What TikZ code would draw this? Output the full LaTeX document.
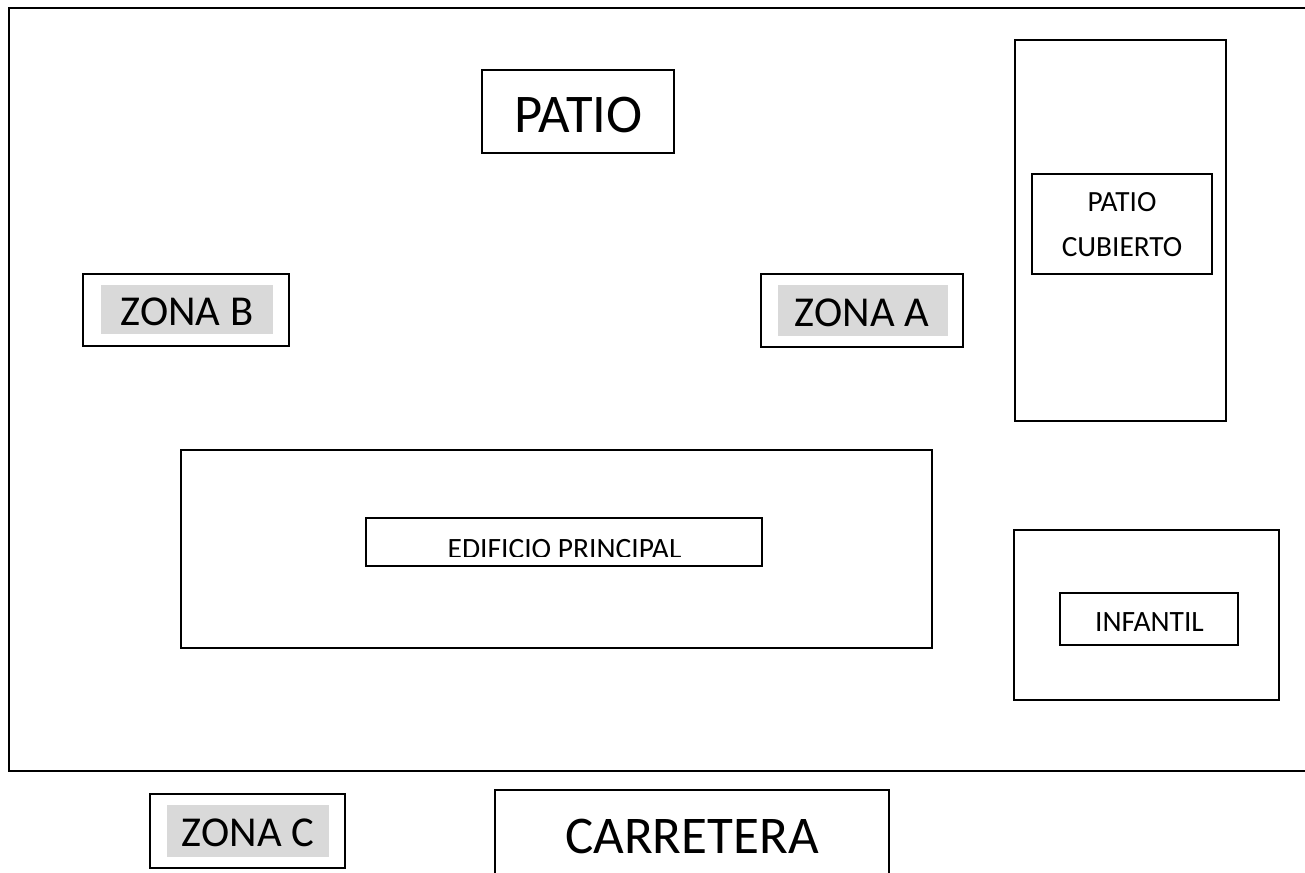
\documentclass[tikz,border=0pt]{standalone}
\usepackage{fontspec}
\setmainfont{Carlito}
\usepackage{xcolor}
\usepackage{tikz}
\definecolor{zonagris}{RGB}{217,217,217}
\tikzset{
  caja/.style={draw, line width=1.1pt},
  etiqueta/.style={fill=zonagris, inner sep=0pt},
  zonatexto/.style={font=\fontsize{42.6}{50}\selectfont},
  chico/.style={font=\fontsize{29.5}{34}\selectfont},
}
\begin{document}
\begin{tikzpicture}[x=1pt,y=-1pt]
\useasboundingbox (0,0) rectangle (1305,872);
%recinto
\draw [line width=1.4pt] (1305,8) -- (9,8) -- (9,771) -- (1305,771);
%patio
\draw [caja] (482,70) rectangle (674,153);
\node [font=\fontsize{54.5}{64}\selectfont] (patio) at (578.5,115) {PATIO};
%patio cubierto
\draw [caja] (1015,40) rectangle (1226,421);
\draw [caja] (1032,174) rectangle (1212,274);
\node [chico, align=center, font=\fontsize{29.3}{45}\selectfont] (cubierto) at (1122,224.5) {PATIO\\CUBIERTO};
%zona B
\draw [caja] (83,274) rectangle (289,346);
\node [etiqueta, minimum width=172, minimum height=49] (grisB) at (187,309.5) {};
\node [zonatexto] (zonaB) at (187,311.5) {ZONA B};
%zona A
\draw [caja] (761,274) rectangle (963,347);
\node [etiqueta, minimum width=170, minimum height=51] (grisA) at (863,310.5) {};
\node [zonatexto] (zonaA) at (862,312.5) {ZONA A};
%edificio principal
\draw [caja] (181,450) rectangle (932,648);
\draw [caja] (366,518) rectangle (762,566);
\begin{scope}
\clip (366,518) rectangle (762,556.5);
\node [chico] (edificio) at (564.5,549.5) {EDIFICIO PRINCIPAL};
\end{scope}
%infantil
\draw [caja] (1014,530) rectangle (1279,700);
\draw [caja] (1060,593) rectangle (1238,645);
\node [chico] (infantil) at (1149.5,622) {INFANTIL};
%zona C
\draw [caja] (150,794) rectangle (345,868);
\node [etiqueta, minimum width=162, minimum height=52] (grisC) at (248,831) {};
\node [zonatexto] (zonaC) at (248,833) {ZONA C};
%carretera
\draw [caja] (495,880) -- (495,790) -- (889,790) -- (889,880);
\node [font=\fontsize{53}{62}\selectfont] (carretera) at (692,836) {CARRETERA};
\end{tikzpicture}
\end{document}
